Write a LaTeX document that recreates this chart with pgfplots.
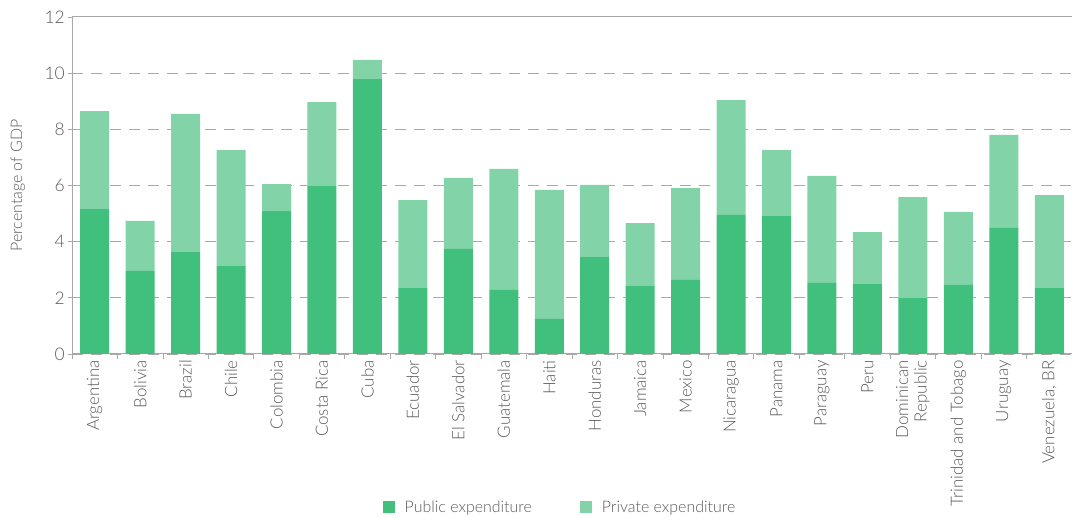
\documentclass[border=0pt]{standalone}
\usepackage{pgfplots}
\pgfplotsset{compat=1.18}
\usepackage{fontspec}
\setmainfont{Lato Light}

\definecolor{public}{RGB}{65,191,124}
\definecolor{private}{RGB}{130,212,168}
\definecolor{txt}{RGB}{90,90,90}
\definecolor{axgray}{RGB}{168,168,168}

\begin{document}
\begin{tikzpicture}
\path[use as bounding box] (0,0) rectangle (1072bp,518bp);
\begin{axis}[
  at={(72bp,164bp)}, anchor=south west,
  scale only axis,
  width=1000bp, height=337bp,
  ybar stacked,
  bar width=29bp,
  xmin=-0.5, xmax=21.5,
  ymin=0, ymax=12,
  ytick={0,2,...,10},
  xtick={0,...,21},
  xticklabels={Argentina,Bolivia,Brazil,Chile,Colombia,Costa Rica,Cuba,Ecuador,El Salvador,Guatemala,Haiti,Honduras,Jamaica,Mexico,Nicaragua,Panama,Paraguay,Peru,{Dominican\\Republic},Trinidad and Tobago,Uruguay,{Venezuela, BR}},
  extra y ticks={12},
  extra y tick style={grid=none},
  minor xtick={-0.5,0.5,...,21.5},
  major x tick style={draw=none},
  minor x tick style={axgray, line width=0.8bp},
  minor tick length=5bp,
  major tick length=4bp,
  tick align=outside,
  axis x line*=bottom,
  axis y line*=left,
  axis line style={axgray, line width=1bp, -},
  y tick style={axgray, line width=0.8bp},
  ymajorgrids=true,
  grid style={axgray, line width=1.1bp, dash pattern=on 11bp off 8bp},
  /pgf/number format/assume math mode=true,
  tick label style={font=\fontsize{17.5}{19}\selectfont, text=txt},
  xticklabel style={font=\fontsize{17}{18.5}\selectfont, rotate=90, anchor=east, align=right, inner sep=2bp},
  yticklabel style={inner sep=3bp},
  ylabel={Percentage of GDP},
  every axis y label/.style={at={(rel axis cs:0,0.5)}, xshift=-54bp, rotate=90, anchor=center, font=\fontsize{16}{18}\selectfont, text=txt},
  legend style={at={(rel axis cs:0.488,-0.454)}, anchor=center, draw=none, fill=none,
    legend columns=2, font=\fontsize{16}{18}\selectfont, text=txt,
    /tikz/every odd column/.append style={column sep=8bp},
    /tikz/every even column/.append style={column sep=46bp}},
  legend image code/.code={\fill[#1] (0bp,-6bp) rectangle (12bp,6bp);},
]
\addplot[fill=public, draw=none] coordinates {
(0,5.16)(1,2.96)(2,3.63)(3,3.13)(4,5.09)(5,5.98)(6,9.79)(7,2.35)(8,3.74)(9,2.28)(10,1.25)
(11,3.45)(12,2.42)(13,2.64)(14,4.95)(15,4.91)(16,2.53)(17,2.49)(18,1.99)(19,2.46)(20,4.49)(21,2.35)};
\addplot[fill=private, draw=none] coordinates {
(0,3.49)(1,1.78)(2,4.92)(3,4.13)(4,0.96)(5,2.99)(6,0.68)(7,3.13)(8,2.53)(9,4.31)(10,4.59)
(11,2.57)(12,2.24)(13,3.27)(14,4.09)(15,2.35)(16,3.81)(17,1.85)(18,3.60)(19,2.60)(20,3.31)(21,3.31)};
\legend{Public expenditure, Private expenditure}
\draw[axgray, line width=1bp] (rel axis cs:0,1) -- (rel axis cs:1,1);
\end{axis}
\end{tikzpicture}
\end{document}
